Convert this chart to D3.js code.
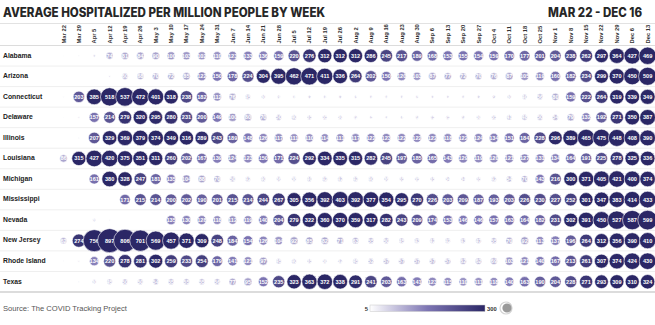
<!DOCTYPE html>
<html>
<head>
<meta charset="utf-8">
<script src="https://cdn.jsdelivr.net/npm/d3@7"></script>
<style>
  body { margin: 0; background: #fff; }
  text { font-family: "Liberation Sans", Arial, sans-serif; }
</style>
</head>
<body>
<div class="chart"></div>
<script>
var svgWidth = 655;
var svgHeight = 325;

// week labels (columns)
var weeks = ["Mar 22", "Mar 29", "Apr 5", "Apr 12", "Apr 19", "Apr 26", "May 3", "May 10",
  "May 17", "May 24", "May 31", "Jun 7", "Jun 14", "Jun 21", "Jun 28", "Jul 5", "Jul 12",
  "Jul 19", "Jul 26", "Aug 2", "Aug 9", "Aug 16", "Aug 23", "Aug 30", "Sep 6", "Sep 13",
  "Sep 20", "Sep 27", "Oct 4", "Oct 11", "Oct 18", "Oct 25", "Nov 1", "Nov 8", "Nov 15",
  "Nov 22", "Nov 29", "Dec 6", "Dec 13"];

var states = ["Alabama", "Arizona", "Connecticut", "Delaware", "Illinois", "Louisiana",
  "Michigan", "Mississippi", "Nevada", "New Jersey", "Rhode Island", "Texas"];

// average hospitalized per million, one value per week (null = no data)
var alabama = [1, 4, 12, 74, 81, 84, 90, 100, 103, 102, 110, 123, 133, 136, 159, 220, 276,
  312, 312, 312, 286, 245, 217, 189, 168, 153, 155, 154, 159, 170, 177, 201, 204, 238, 262, 297, 364, 427, 469];
var arizona = [null, null, null, 8, 60, 68, 70, 72, 85, 122, 150, 178, 224, 304, 395, 462, 471,
  411, 336, 264, 202, 150, 120, 103, 87, 77, 72, 70, 76, 87, 105, 119, 160, 182, 234, 299, 370, 450, 509];
var connecticut = [3, 203, 385, 518, 537, 472, 401, 318, 238, 182, 112, 76, 45, 30, 20, 16, 17,
  18, 17, 15, 14, 14, 14, 15, 13, 13, 14, 17, 22, 30, 40, 56, 80, 159, 222, 264, 319, 339, 349];
var delaware = [1, 8, 157, 214, 279, 320, 295, 280, 231, 200, 149, 100, 80, 70, 50, 40, 35,
  35, 30, 22, 15, 12, 16, 22, 25, 25, 22, 30, 35, 41, 48, 50, 54, 79, 132, 192, 271, 350, 387];
var illinois = [null, 3, 207, 329, 369, 379, 374, 349, 316, 289, 243, 189, 148, 126, 117, 111, 110,
  114, 111, 117, 122, 123, 122, 122, 122, 118, 122, 124, 134, 151, 184, 228, 296, 389, 465, 475, 448, 408, 390];
var louisiana = [86, 315, 427, 420, 375, 351, 311, 260, 202, 167, 139, 124, 123, 150, 171, 224, 292,
  334, 335, 315, 282, 245, 197, 185, 165, 143, 129, 119, 120, 121, 127, 131, 134, 164, 191, 225, 278, 325, 336];
var michigan = [null, null, 161, 380, 328, 247, 181, 135, 104, 88, 70, 50, 42, 40, 36, 38, 40,
  42, 42, 42, 40, 36, 35, 35, 35, 34, 34, 35, 42, 54, 70, 143, 216, 300, 371, 405, 421, 400, 374];
var mississippi = [null, null, null, null, 171, 215, 214, 200, 202, 190, 201, 215, 214, 244, 267, 305, 356,
  392, 403, 392, 377, 354, 295, 270, 226, 203, 209, 187, 193, 203, 226, 230, 227, 252, 301, 347, 383, 414, 433];
var nevada = [null, null, 20, 3, null, null, null, 135, 130, 128, 118, 112, 119, 140, 204, 279, 322,
  360, 370, 359, 317, 282, 243, 209, 174, 153, 146, 146, 157, 163, 164, 182, 231, 302, 391, 450, 527, 587, 599];
var newJersey = [62, 274, 756, 897, 806, 701, 569, 457, 371, 309, 248, 184, 154, 126, 104, 92, 85,
  82, 71, 63, 55, 50, 45, 43, 42, 42, 43, 47, 55, 70, 92, 113, 137, 196, 264, 312, 356, 390, 410];
var rhodeIsland = [2, 8, 134, 220, 278, 281, 302, 259, 233, 254, 179, 141, 121, 97, 45, 40, 35,
  30, 32, 45, 52, 57, 57, 57, 57, 57, 62, 62, 69, 103, 121, 140, 167, 213, 261, 307, 374, 424, 430];
var texas = [null, 3, 30, 45, 50, 50, 54, 55, 55, 55, 56, 77, 95, 152, 235, 323, 363,
  372, 338, 291, 241, 203, 163, 141, 123, 115, 110, 111, 118, 140, 163, 190, 204, 228, 271, 293, 309, 310, 324];

var stateValues = [alabama, arizona, connecticut, delaware, illinois, louisiana,
  michigan, mississippi, nevada, newJersey, rhodeIsland, texas];

// flatten into cells
var cells = [];
states.forEach(function(s, i) {
  stateValues[i].forEach(function(v, j) {
    if (v !== null) cells.push({ state: s, week: weeks[j], value: v });
  });
});

var svg = d3.select(".chart")
  .append("svg")
  .attr("width", svgWidth)
  .attr("height", svgHeight);

// title
svg.append("text")
  .attr("x", 3)
  .attr("y", 17)
  .attr("textLength", 322)
  .attr("lengthAdjust", "spacingAndGlyphs")
  .style("font-family", "Inter, 'Open Sans', sans-serif")
  .style("font-weight", 800)
  .style("font-size", "12.5px")
  .attr("fill", "#262626")
  .text("AVERAGE HOSPITALIZED PER MILLION PEOPLE BY WEEK");

svg.append("text")
  .attr("x", 642)
  .attr("y", 17)
  .attr("text-anchor", "end")
  .attr("textLength", 94)
  .attr("lengthAdjust", "spacingAndGlyphs")
  .style("font-family", "Inter, 'Open Sans', sans-serif")
  .style("font-weight", 800)
  .style("font-size", "12.5px")
  .attr("fill", "#262626")
  .text("MAR 22 - DEC 16");

svg.append("line")
  .attr("x1", 0).attr("x2", svgWidth)
  .attr("y1", 23.5).attr("y2", 23.5)
  .attr("stroke", "#e2e2e2");

// scales
var xScale = d3.scalePoint()
  .domain(weeks)
  .range([63.5, 647.6]);

var yScale = d3.scaleBand()
  .domain(states)
  .range([45.5, 292]);

var rScale = d3.scaleSqrt()
  .domain([0, 897])
  .range([0, 12]);

var colorScale = d3.scaleLinear()
  .domain([5, 150, 300])
  .range(["#e4e2f0", "#7d75b3", "#2b2766"])
  .clamp(true);

// week labels
svg.append("g")
  .selectAll("text")
  .data(weeks)
  .enter()
  .append("text")
  .attr("transform", d => `translate(${xScale(d) + 2}, 43.5) rotate(-90)`)
  .attr("text-anchor", "start")
  .style("font-size", "5.8px")
  .style("font-weight", "bold")
  .attr("fill", "#333")
  .text(d => d);

// row lines
var rowLines = svg.append("g");
states.forEach(function(s, i) {
  rowLines.append("line")
    .attr("x1", 0).attr("x2", svgWidth)
    .attr("y1", yScale(s)).attr("y2", yScale(s))
    .attr("stroke", i === 0 ? "#dcdcdc" : "#efefef");
});
svg.append("line")
  .attr("x1", 0).attr("x2", svgWidth)
  .attr("y1", 292).attr("y2", 292)
  .attr("stroke", "#d0d0d0")
  .attr("stroke-width", 1.5);

// state labels
svg.append("g")
  .selectAll("text")
  .data(states)
  .enter()
  .append("text")
  .attr("x", 3)
  .attr("y", d => yScale(d) + yScale.bandwidth() / 2)
  .attr("dominant-baseline", "middle")
  .style("font-size", "6.8px")
  .style("font-weight", "bold")
  .attr("fill", "#222")
  .text(d => d);

// bubbles
var bubbles = svg.append("g")
  .selectAll("g")
  .data(cells)
  .enter()
  .append("g")
  .attr("transform", d => `translate(${xScale(d.week)}, ${yScale(d.state) + yScale.bandwidth() / 2})`);

bubbles.append("circle")
  .attr("r", d => rScale(d.value))
  .attr("fill", d => colorScale(d.value))
  .attr("stroke", "#fff")
  .attr("stroke-width", 0.6);

bubbles.append("text")
  .attr("text-anchor", "middle")
  .attr("dominant-baseline", "central")
  .style("font-size", "5.6px")
  .style("font-weight", "bold")
  .attr("fill", "#fff")
  .text(d => d.value);

// source
svg.append("text")
  .attr("x", 3)
  .attr("y", 310.5)
  .style("font-size", "7.6px")
  .attr("fill", "#555")
  .text("Source: The COVID Tracking Project");

// legend
var defs = svg.append("defs");
var grad = defs.append("linearGradient").attr("id", "legendGrad");
grad.append("stop").attr("offset", "0%").attr("stop-color", "#ffffff");
grad.append("stop").attr("offset", "50%").attr("stop-color", colorScale(150));
grad.append("stop").attr("offset", "100%").attr("stop-color", colorScale(300));

svg.append("text")
  .attr("x", 368)
  .attr("y", 310.5)
  .attr("text-anchor", "end")
  .style("font-size", "5.8px")
  .style("font-weight", "bold")
  .attr("fill", "#333")
  .text("5");

svg.append("rect")
  .attr("x", 370)
  .attr("y", 305)
  .attr("width", 115)
  .attr("height", 6.5)
  .attr("fill", "url(#legendGrad)")
  .attr("stroke", "#c8c8c8")
  .attr("stroke-width", 0.5);

svg.append("text")
  .attr("x", 487)
  .attr("y", 310.5)
  .style("font-size", "5.8px")
  .style("font-weight", "bold")
  .attr("fill", "#333")
  .text("300");

svg.append("circle")
  .attr("cx", 506)
  .attr("cy", 308)
  .attr("r", 6)
  .attr("fill", "none")
  .attr("stroke", "#d4d4d4")
  .attr("stroke-width", 1.2);
svg.append("circle")
  .attr("cx", 507)
  .attr("cy", 308)
  .attr("r", 4.6)
  .attr("fill", "#9a9a9a");
</script>
</body>
</html>
